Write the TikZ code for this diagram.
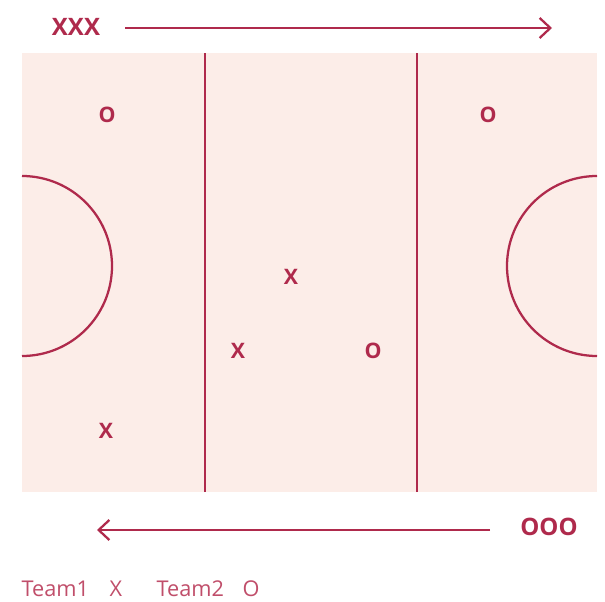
\documentclass[tikz,border=0pt]{standalone}
\usepackage{fontspec}
\setmainfont{Open Sans}
\usetikzlibrary{arrows.meta}
\definecolor{court}{HTML}{FCEDE8}
\definecolor{mark}{HTML}{AF2A4C}
\definecolor{legend}{HTML}{C04E6A}
\tikzset{
  pitch/.style={fill=court, draw=none},
  pline/.style={draw=mark, line width=1.7pt},
  player/.style={font=\fontsize{16}{18}\selectfont\bfseries, text=mark, inner sep=1pt},
  team/.style={font=\fontsize{18}{20}\selectfont\bfseries, text=mark, inner sep=1pt},
  legtxt/.style={font=\fontsize{16.3}{18}\selectfont, text=legend, inner sep=1pt},
  dirarrow/.style={-{Straight Barb[length=8pt,width=15pt,line width=1.7pt]}, draw=mark, line width=1.7pt},
}
\begin{document}
\begin{tikzpicture}[x=0.75pt, y=0.75pt]
\useasboundingbox (0,0) rectangle (605,601);
% ---- court ----
\fill[pitch] (22,109) rectangle (597,548);
\draw[pline] (205,109) -- (205,548);
\draw[pline] (417,109) -- (417,548);
\draw[pline] (22,425) arc[start angle=90, end angle=-90, radius=90];
\draw[pline] (597,425) arc[start angle=90, end angle=270, radius=90];
% ---- players ----
\node[player] (o1) at (107,486) {O};
\node[player] (o2) at (488,486) {O};
\node[player] (x1) at (291,324) {X};
\node[player] (x2) at (238,250) {X};
\node[player] (o3) at (373,250) {O};
\node[player] (x3) at (106,170) {X};
% ---- attack directions ----
\node[team] (xxx) at (76,574) {XXX};
\coordinate (xs) at (125,573);
\coordinate (xe) at (552,573);
\draw[dirarrow] (xs) -- (xe);
\node[team] (ooo) at (549,74) {OOO};
\coordinate (os) at (490,71);
\coordinate (oe) at (97,71);
\draw[dirarrow] (os) -- (oe);
% ---- legend ----
\node[legtxt, anchor=west] (team1) at (20,12) {Team1};
\node[legtxt] (legx) at (116,12) {X};
\node[legtxt, anchor=west] (team2) at (155,12) {Team2};
\node[legtxt] (lego) at (251,12) {O};
\end{tikzpicture}
\end{document}
